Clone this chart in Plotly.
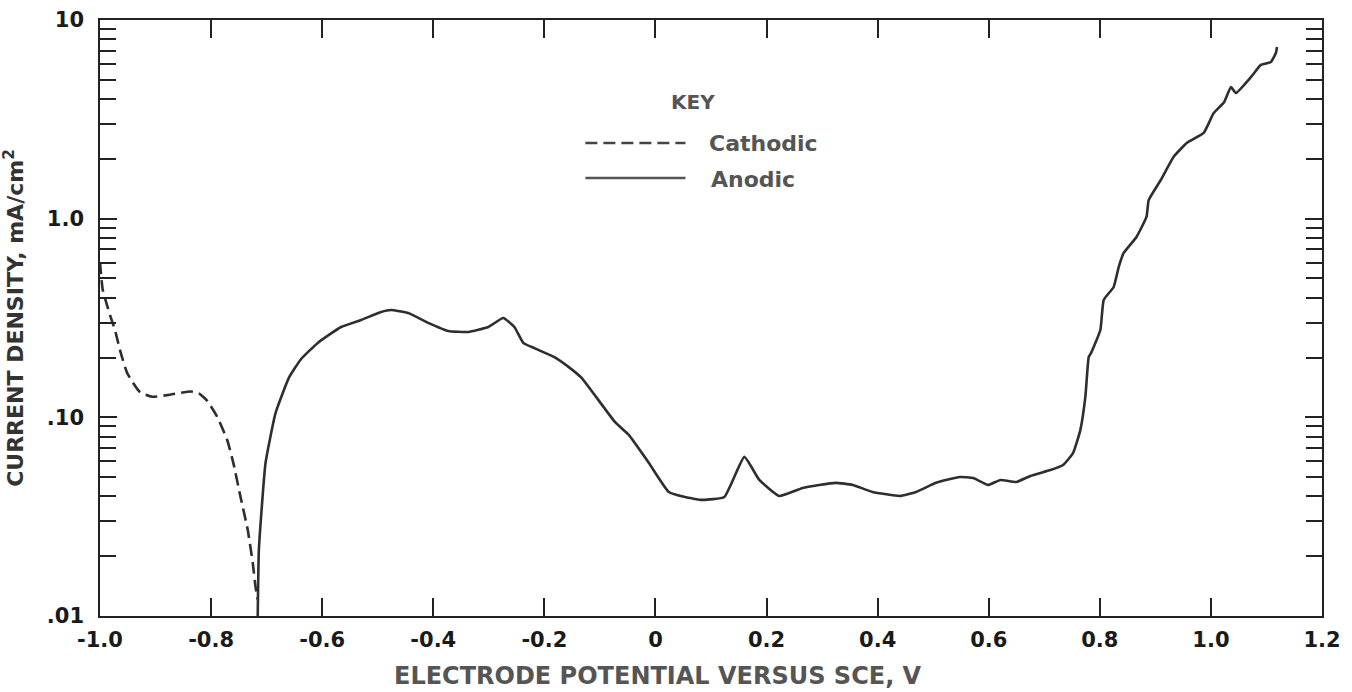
import plotly.graph_objects as go

# ---- data ----
cathodic_v = [-1.000, -0.995, -0.982, -0.973, -0.964, -0.951, -0.928, -0.906,
              -0.874, -0.837, -0.822, -0.807, -0.789, -0.771, -0.760, -0.747,
              -0.734, -0.725, -0.720, -0.716]
cathodic_i = [0.605, 0.438, 0.327, 0.275, 0.218, 0.167, 0.134, 0.127,
              0.130, 0.135, 0.132, 0.121, 0.1005, 0.0769, 0.059, 0.0397,
              0.0271, 0.0185, 0.0140, 0.0121]

anodic_v = [-0.716, -0.714, -0.702, -0.684, -0.660, -0.639, -0.608, -0.566,
            -0.530, -0.494, -0.476, -0.445, -0.409, -0.373, -0.337, -0.301,
            -0.274, -0.254, -0.238, -0.218, -0.182, -0.156, -0.133, -0.073,
            -0.048, -0.012, 0.024, 0.053, 0.084, 0.124, 0.160, 0.187,
            0.223, 0.265, 0.324, 0.355, 0.391, 0.440, 0.469, 0.505,
            0.548, 0.572, 0.599, 0.621, 0.650, 0.675, 0.711, 0.734,
            0.752, 0.765, 0.774, 0.780, 0.785, 0.801, 0.807, 0.825,
            0.834, 0.843, 0.866, 0.884, 0.888, 0.910, 0.933, 0.957,
            0.987, 1.005, 1.024, 1.036, 1.045, 1.072, 1.090, 1.108,
            1.117, 1.119]
anodic_i = [0.0100, 0.0215, 0.059, 0.105, 0.158, 0.195, 0.237, 0.285,
            0.309, 0.339, 0.347, 0.335, 0.299, 0.272, 0.269, 0.285,
            0.316, 0.285, 0.237, 0.223, 0.201, 0.179, 0.158, 0.0948,
            0.0815, 0.059, 0.0421, 0.0397, 0.0384, 0.0397, 0.0632, 0.0484,
            0.0402, 0.0441, 0.0468, 0.0457, 0.0421, 0.0402, 0.0421, 0.0468,
            0.0501, 0.0495, 0.0457, 0.0484, 0.0473, 0.0507, 0.0543, 0.0576,
            0.0662, 0.0865, 0.127, 0.201, 0.213, 0.275, 0.390, 0.453,
            0.571, 0.672, 0.809, 1.02, 1.24, 1.57, 2.05, 2.41,
            2.70, 3.40, 3.87, 4.60, 4.29, 5.16, 5.94, 6.15,
            6.82, 7.31]

x_tickvals = [-1.0, -0.8, -0.6, -0.4, -0.2, 0.0, 0.2, 0.4, 0.6, 0.8, 1.0, 1.2]
x_ticktext = ["-1.0", "-0.8", "-0.6", "-0.4", "-0.2", "0", "0.2", "0.4", "0.6", "0.8", "1.0", "1.2"]
y_tickvals = [0.01, 0.1, 1.0, 10.0]
y_ticktext = [".01", ".10", "1.0", "10"]
y_minorvals = [m * d for d in (0.01, 0.1, 1.0) for m in range(2, 10)]

FONT = "DejaVu Sans"
LINE = "#2e2e2e"

fig = go.Figure()
fig.add_trace(go.Scatter(x=cathodic_v, y=cathodic_i, mode="lines", name="Cathodic",
                         line=dict(color=LINE, width=2.6, dash="12px,6px", shape="spline", smoothing=0.5)))
fig.add_trace(go.Scatter(x=anodic_v, y=anodic_i, mode="lines", name="Anodic",
                         line=dict(color=LINE, width=2.6, shape="spline", smoothing=0.4)))

fig.update_layout(
    width=1352, height=692,
    margin=dict(l=100, r=30, t=20, b=76),
    paper_bgcolor="white", plot_bgcolor="white",
    showlegend=False,
    font=dict(family=FONT, color="#1a1a1a"),
)
fig.update_xaxes(
    range=[-1.0, 1.2], tickmode="array", tickvals=x_tickvals, ticktext=x_ticktext,
    ticks="inside", ticklen=18, tickwidth=1.5, tickcolor="#222",
    showline=True, linecolor="#222", linewidth=1.5, mirror="ticks",
    showgrid=False, zeroline=False,
    tickfont=dict(family=FONT, size=21, color="#1a1a1a", weight="bold"),
    ticklabelstandoff=4,
)
fig.update_yaxes(
    type="log", range=[-2, 1], tickmode="array", tickvals=y_tickvals, ticktext=y_ticktext,
    ticks="inside", ticklen=17, tickwidth=1.5, tickcolor="#222",
    minor=dict(tickmode="array", tickvals=y_minorvals, ticks="inside", ticklen=16,
               tickwidth=1.5, tickcolor="#222", showgrid=False),
    showline=True, linecolor="#222", linewidth=1.5, mirror="ticks",
    showgrid=False, zeroline=False,
    tickfont=dict(family=FONT, size=21, color="#1a1a1a", weight="bold"),
    ticklabelstandoff=10,
    title=dict(text="CURRENT DENSITY, mA/cm<sup>2</sup>", standoff=22,
               font=dict(family=FONT, size=22, color="#333333", weight="bold")),
    automargin=False,
)

# x axis title (offset left of the plot centre, as in the reference)
fig.add_annotation(text="ELECTRODE POTENTIAL VERSUS SCE, V", xref="paper", yref="paper",
                   x=0.457, y=-0.1007, xanchor="center", yanchor="middle", showarrow=False,
                   font=dict(family=FONT, size=24, color="#555555", weight="bold"))

# key
fig.add_annotation(text="KEY", xref="paper", yref="paper", x=0.4849, y=0.862,
                   xanchor="center", yanchor="middle", showarrow=False,
                   font=dict(family=FONT, size=20, color="#555555", weight="bold"))
fig.add_annotation(text="Cathodic", xref="paper", yref="paper", x=0.497, y=0.7936,
                   xanchor="left", yanchor="middle", showarrow=False,
                   font=dict(family=FONT, size=22, color="#555555", weight="bold"))
fig.add_annotation(text="Anodic", xref="paper", yref="paper", x=0.498, y=0.7332,
                   xanchor="left", yanchor="middle", showarrow=False,
                   font=dict(family=FONT, size=22, color="#555555", weight="bold"))
fig.add_shape(type="line", xref="paper", yref="paper", x0=0.3972, x1=0.4791, y0=0.7936, y1=0.7936,
              line=dict(color="#444", width=2.6, dash="12px,6px"))
fig.add_shape(type="line", xref="paper", yref="paper", x0=0.3972, x1=0.4791, y0=0.7349, y1=0.7349,
              line=dict(color="#555", width=2.6))

fig.write_html("out.html")
